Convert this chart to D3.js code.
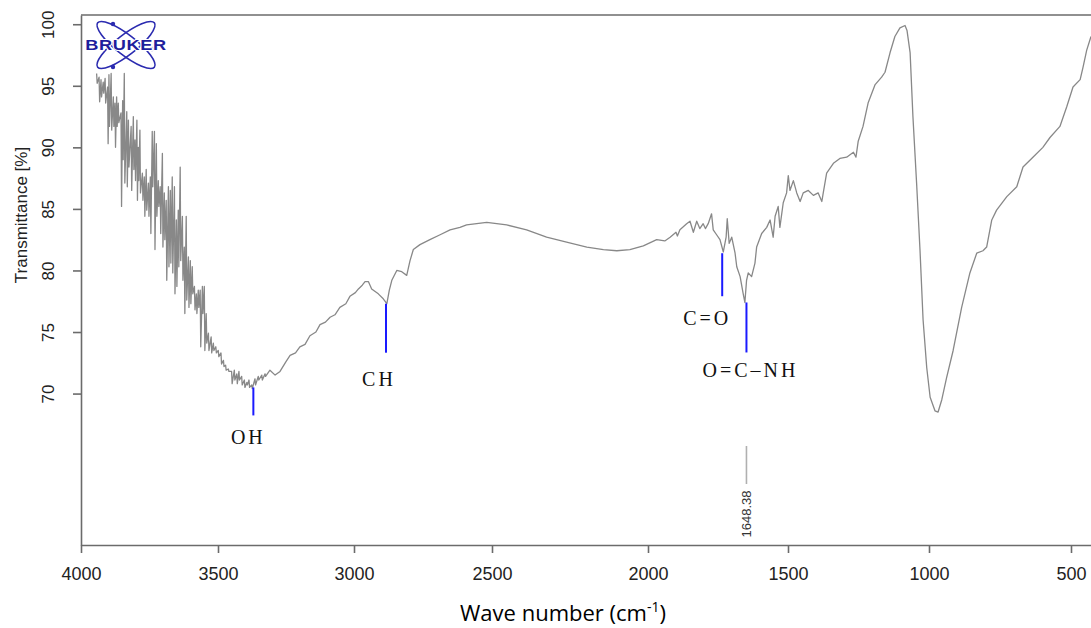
<!DOCTYPE html>
<html lang="en">
<head>
<meta charset="utf-8">
<title>FTIR spectrum</title>
<script src="https://cdn.jsdelivr.net/npm/d3@7"></script>
<style>
  body { margin: 0; background: #fff; }
  svg { display: block; }
</style>
</head>
<body>
<div id="chart"></div>
<script>
// noisy start of the spectrum (3943-3327 cm-1): every spike has a top and a bottom
var spikeWave = [3943, 3934, 3927, 3919, 3912, 3903, 3898, 3890, 3882, 3876, 3870, 3864, 3854, 3848, 3842,
                 3833, 3827, 3817, 3809, 3803, 3796, 3791, 3785, 3776, 3769, 3762, 3754, 3747, 3740, 3732,
                 3725, 3718, 3711, 3703, 3696, 3689, 3681, 3674, 3667, 3659, 3652, 3645, 3638, 3630, 3623,
                 3616, 3608, 3601, 3594, 3586, 3579, 3572, 3565, 3557, 3550, 3543, 3535, 3525, 3517, 3508,
                 3499, 3489, 3480, 3472, 3462, 3450, 3440, 3431, 3423, 3413, 3403, 3394, 3386, 3376, 3364,
                 3352, 3339, 3327];
var spikeHigh = [96.0, 95.7, 95.5, 95.3, 95.6, 94.9, 95.9, 96.0, 94.1, 93.6, 94.1, 93.6, 92.8, 93.8, 96.0,
                 92.9, 92.2, 91.7, 92.5, 90.6, 92.2, 90.0, 91.4, 87.9, 87.6, 88.2, 87.1, 87.6, 91.3, 91.3,
                 90.3, 87.3, 86.8, 89.5, 86.3, 85.7, 86.8, 86.5, 87.6, 86.8, 84.1, 84.9, 88.4, 84.4, 81.9,
                 84.4, 81.1, 80.8, 80.3, 78.7, 78.1, 78.4, 78.4, 78.7, 78.7, 76.5, 74.9, 74.6, 74.1, 73.8,
                 73.5, 73.3, 72.7, 72.3, 72.0, 71.8, 71.9, 71.6, 71.8, 71.4, 71.1, 70.9, 71.1, 70.7, 71.2,
                 71.4, 71.5, 71.6];
var spikeLow  = [95.2, 93.7, 94.1, 94.4, 93.6, 90.3, 91.7, 91.4, 91.7, 90.0, 91.7, 92.0, 85.2, 89.0, 87.1,
                 86.8, 88.4, 86.5, 88.2, 87.3, 85.7, 87.3, 86.3, 85.7, 84.4, 84.9, 84.4, 83.0, 86.8, 81.7,
                 84.4, 85.2, 83.0, 81.9, 82.5, 79.2, 80.3, 80.6, 79.8, 78.1, 78.7, 80.3, 80.8, 79.2, 76.5,
                 77.6, 77.0, 77.3, 78.1, 76.8, 76.5, 77.0, 73.8, 76.5, 73.5, 74.1, 73.5, 73.3, 73.5, 73.3,
                 73.0, 72.4, 72.2, 71.9, 71.8, 70.8, 71.1, 70.8, 71.1, 70.7, 70.5, 70.7, 70.5, 70.4, 70.7,
                 71.1, 71.1, 71.4];

// rest of the spectrum
var smoothWave = [3309, 3290, 3272, 3250, 3235, 3215, 3199, 3180, 3162, 3140, 3125, 3105, 3088, 3070, 3052,
                  3030, 3015, 2995, 2984, 2970, 2960, 2948, 2936, 2912, 2894, 2881, 2872, 2863, 2845, 2827,
                  2809, 2797, 2785, 2761, 2725, 2688, 2652, 2616, 2592, 2519, 2453, 2389, 2325, 2261, 2196,
                  2143, 2100, 2058, 2015, 1969, 1940, 1921, 1900, 1895, 1886, 1862, 1850, 1838, 1826, 1815,
                  1803, 1795, 1785, 1773, 1767, 1755, 1743, 1731, 1721, 1717, 1710, 1701, 1689, 1683, 1671,
                  1660, 1654, 1648, 1642, 1630, 1618, 1612, 1594, 1576, 1564, 1553, 1546, 1535, 1529, 1517,
                  1505, 1499, 1493, 1481, 1469, 1457, 1446, 1428, 1410, 1393, 1380, 1375, 1363, 1339, 1316,
                  1292, 1268, 1259, 1251, 1234, 1216, 1191, 1168, 1156, 1138, 1121, 1103, 1085, 1078, 1067,
                  1057, 1044, 1032, 1021, 1008, 996, 979, 968, 955, 938, 915, 885, 856, 832, 810,
                  797, 779, 762, 726, 691, 669, 634, 599, 574, 539, 515, 493, 468, 458, 445, 430];
var smoothT    = [71.9, 71.5, 71.8, 72.6, 73.1, 73.3, 73.8, 74.0, 74.7, 75.0, 75.6, 75.8, 76.2, 76.4, 77.0,
                  77.3, 77.9, 78.2, 78.5, 78.8, 79.1, 79.1, 78.5, 78.1, 77.7, 77.3, 78.4, 79.2, 80.0, 79.9,
                  79.6, 80.8, 81.7, 82.1, 82.5, 82.9, 83.3, 83.5, 83.7, 83.9, 83.7, 83.3, 82.7, 82.3, 81.9,
                  81.7, 81.6, 81.7, 82.0, 82.5, 82.4, 82.7, 83.1, 82.8, 83.3, 83.8, 84.0, 83.1, 84.0, 83.4,
                  83.8, 83.4, 83.8, 84.6, 83.3, 82.9, 82.5, 81.5, 82.7, 84.2, 82.2, 82.7, 81.4, 80.3, 79.5,
                  78.1, 77.4, 79.2, 79.8, 79.5, 80.6, 81.9, 83.0, 83.5, 84.1, 82.7, 84.4, 85.2, 83.5, 85.5,
                  86.3, 87.7, 86.5, 87.3, 86.3, 85.6, 86.3, 86.5, 86.1, 86.3, 85.6, 86.3, 87.9, 88.7, 89.1,
                  89.2, 89.6, 89.2, 90.5, 91.7, 93.6, 95.1, 95.7, 96.1, 97.7, 99.0, 99.7, 99.9, 99.5, 97.7,
                  92.5, 87.1, 81.7, 76.0, 72.1, 69.7, 68.6, 68.5, 69.5, 71.3, 73.5, 77.0, 79.8, 81.4, 81.6,
                  81.9, 84.1, 84.9, 86.0, 86.8, 88.4, 89.2, 90.0, 90.8, 91.7, 93.3, 94.9, 95.5, 96.5, 97.9, 99.0];

var xTicks = [4000, 3500, 3000, 2500, 2000, 1500, 1000, 500];
var yTicks = [70, 75, 80, 85, 90, 95, 100];

// marked bands
var bandWave  = [3370, 2884, 1735, 1648.38];
var bandT     = [70.5, 77.3, 81.4, 77.4];
var bandLabel = ["OH", "CH", "C=O", "O=C\u2013NH"];
var peakWave  = 1648.38;
var peakLabel = "1648.38";

// layout for the band marks (pixels)
var bandLineLen = [28, 49, 43, 50];
var bandLabelDx = [-5, -7, -15, 4];
var bandLabelDy = [29, 33, 29, 25];

var w = 1091, h = 628;
var svg = d3.select("#chart").append("svg")
            .attr("width", w)
            .attr("height", h);

// the printed axis is not evenly spaced, so the scale is piecewise
var xScale = d3.scaleLinear()
               .domain(xTicks.concat([430]))
               .range([81, 218, 354, 492, 648, 788, 929, 1071, 1091]);
var yScale = d3.scaleLinear()
               .domain([57.7, 100.75])
               .range([545, 15]);

// build the spectrum
var spectrum = [];
spikeWave.forEach(function(wn, i){
    spectrum.push([wn, spikeHigh[i]]);
    spectrum.push([wn - 2, spikeLow[i]]);
});
smoothWave.forEach(function(wn, i){
    spectrum.push([wn, smoothT[i]]);
});

// top frame line
svg.append("line")
   .attr("x1", xScale(4000)).attr("x2", w)
   .attr("y1", yScale.range()[1]).attr("y2", yScale.range()[1])
   .attr("stroke", "#6b6b6b").attr("stroke-width", 1.6);

// axes
var xAxis = d3.axisBottom(xScale).tickValues(xTicks).tickSize(8).tickSizeOuter(0).tickFormat(d3.format("d"));
var yAxis = d3.axisLeft(yScale).tickValues(yTicks).tickSize(8).tickSizeOuter(0).tickFormat(d3.format("d"));

var gx = svg.append("g")
   .attr("class", "x axis")
   .attr("transform", "translate(0," + yScale.range()[0] + ")")
   .call(xAxis);
gx.selectAll("path, line").attr("stroke", "#6b6b6b").attr("stroke-width", 1.6);
gx.selectAll("text")
  .attr("y", 35).attr("dy", 0)
  .attr("fill", "#222")
  .style("font-family", "'Liberation Sans', Arial, sans-serif")
  .style("font-size", "18px");

var gy = svg.append("g")
   .attr("class", "y axis")
   .attr("transform", "translate(" + xScale(4000) + ",0)")
   .call(yAxis);
gy.selectAll("path, line").attr("stroke", "#6b6b6b").attr("stroke-width", 1.6);
gy.selectAll("text")
  .attr("x", null).attr("dy", null)
  .attr("text-anchor", "middle")
  .attr("transform", "translate(-27,0) rotate(-90)")
  .attr("fill", "#222")
  .style("font-family", "'Liberation Sans', Arial, sans-serif")
  .style("font-size", "17px");

// axis titles
svg.append("text")
   .attr("transform", "translate(27," + 215 + ") rotate(-90)")
   .attr("text-anchor", "middle")
   .attr("fill", "#222")
   .style("font-family", "'Liberation Sans', Arial, sans-serif")
   .style("font-size", "17px")
   .text("Transmittance [%]");

var xt = svg.append("text")
   .attr("x", 563).attr("y", 621)
   .attr("text-anchor", "middle")
   .attr("fill", "#000")
   .style("font-family", "'Open Sans', sans-serif")
   .style("font-size", "22px");
xt.append("tspan").text("Wave number (cm");
xt.append("tspan").attr("dy", -9).style("font-size", "14px").text("-1");
xt.append("tspan").attr("dy", 9).text(")");

// spectrum line
var line = d3.line()
             .x(function(d){ return xScale(d[0]); })
             .y(function(d){ return yScale(d[1]); });
svg.append("path")
   .datum(spectrum)
   .attr("d", line)
   .attr("fill", "none")
   .attr("stroke", "#888")
   .attr("stroke-width", 1.3)
   .attr("stroke-linejoin", "round");

// band marks
bandWave.forEach(function(wn, i){
    var x = xScale(wn), y0 = yScale(bandT[i]);
    svg.append("line")
       .attr("x1", x).attr("x2", x)
       .attr("y1", y0).attr("y2", y0 + bandLineLen[i])
       .attr("stroke", "#1a1aff").attr("stroke-width", 2);
    svg.append("text")
       .attr("x", x + bandLabelDx[i])
       .attr("y", y0 + bandLineLen[i] + bandLabelDy[i])
       .attr("text-anchor", "middle")
       .attr("fill", "#111")
       .style("font-family", "'Liberation Serif', 'Times New Roman', serif")
       .style("font-size", "20px")
       .style("letter-spacing", "3px")
       .text(bandLabel[i]);
});

// peak pick marker
var px = xScale(peakWave);
svg.append("line")
   .attr("x1", px).attr("x2", px)
   .attr("y1", 446).attr("y2", 484)
   .attr("stroke", "#b0b0b0").attr("stroke-width", 1.6);
svg.append("text")
   .attr("transform", "translate(" + (px + 5) + ",514) rotate(-90)")
   .attr("text-anchor", "middle")
   .attr("fill", "#333")
   .style("font-family", "'Liberation Sans', Arial, sans-serif")
   .style("font-size", "13px")
   .text(peakLabel);

// Bruker logo
var logo = svg.append("g").attr("transform", "translate(126,45)");
[38, -38].forEach(function(a){
    logo.append("ellipse")
        .attr("rx", 36).attr("ry", 10)
        .attr("transform", "rotate(" + a + ")")
        .attr("fill", "none")
        .attr("stroke", "#2b2bb0")
        .attr("stroke-width", 1.6);
});
[[-13, -21], [-13, 22], [26, 4]].forEach(function(p){
    logo.append("circle").attr("cx", p[0]).attr("cy", p[1]).attr("r", 2.2).attr("fill", "#2b2bb0");
});
logo.append("text")
    .attr("x", 0).attr("y", 5)
    .attr("transform", "scale(1.3,1)")
    .attr("text-anchor", "middle")
    .attr("fill", "#1e1e9c")
    .attr("stroke", "#fff").attr("stroke-width", 2)
    .style("paint-order", "stroke")
    .style("font-family", "'Liberation Sans', Arial, sans-serif")
    .style("font-weight", "bold")
    .style("font-size", "14px")
    .style("letter-spacing", "0.5px")
    .text("BRUKER");
</script>
</body>
</html>
